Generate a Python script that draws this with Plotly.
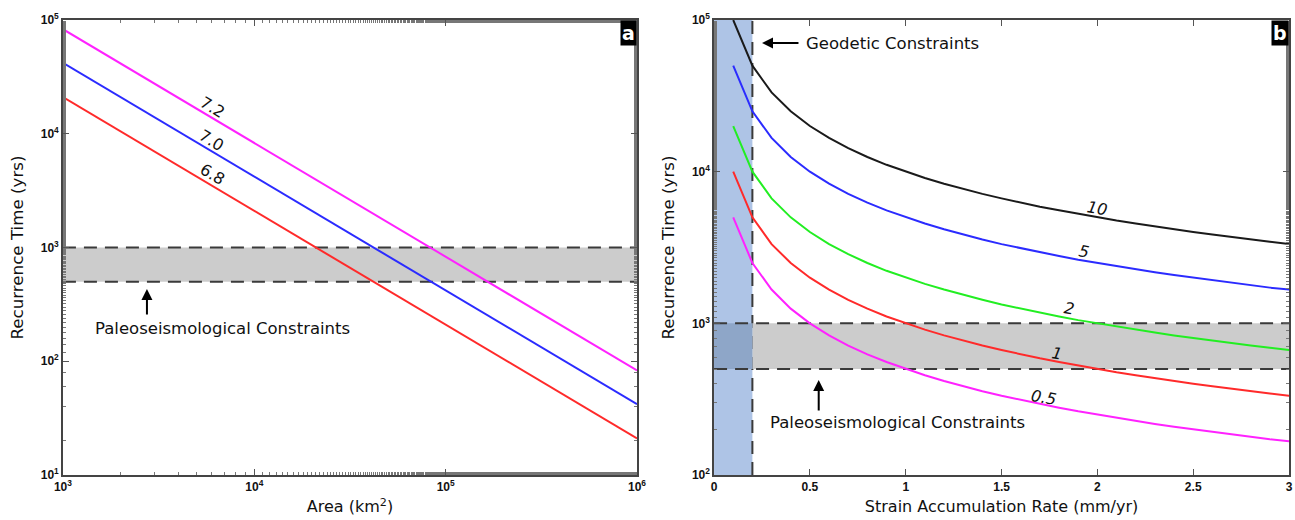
import plotly.graph_objects as go

# ---- Panel a: recurrence time vs. fault area (log-log) ----
area_km2 = [1e3, 1e6]
rec_m72 = [83000, 83]
rec_m70 = [42000, 42]
rec_m68 = [21000, 21]
mag_labels = ["7.2", "7.0", "6.8"]

# ---- Panel b: recurrence time vs. strain accumulation rate ----
rate = [0.1, 0.2, 0.3, 0.4, 0.5, 0.6, 0.7, 0.8, 0.9, 1.0,
        1.1, 1.2, 1.3, 1.4, 1.5, 1.6, 1.7, 1.8, 1.9, 2.0,
        2.1, 2.2, 2.3, 2.4, 2.5, 2.6, 2.7, 2.8, 2.9, 3.0]
rec_10 = [100000, 50000, 33300, 25000, 20000, 16700, 14300, 12500, 11100, 10000,
          9090, 8330, 7690, 7140, 6670, 6250, 5880, 5560, 5260, 5000,
          4760, 4550, 4350, 4170, 4000, 3850, 3700, 3570, 3450, 3330]
rec_5 = [50000, 25000, 16700, 12500, 10000, 8330, 7140, 6250, 5560, 5000,
         4550, 4170, 3850, 3570, 3330, 3130, 2940, 2780, 2630, 2500,
         2380, 2270, 2170, 2080, 2000, 1920, 1850, 1790, 1720, 1670]
rec_2 = [20000, 10000, 6670, 5000, 4000, 3330, 2860, 2500, 2220, 2000,
         1820, 1670, 1540, 1430, 1330, 1250, 1180, 1110, 1050, 1000,
         952, 909, 870, 833, 800, 769, 741, 714, 690, 667]
rec_1 = [10000, 5000, 3330, 2500, 2000, 1670, 1430, 1250, 1110, 1000,
         909, 833, 769, 714, 667, 625, 588, 556, 526, 500,
         476, 455, 435, 417, 400, 385, 370, 357, 345, 333]
rec_05 = [5000, 2500, 1670, 1250, 1000, 833, 714, 625, 556, 500,
          455, 417, 385, 357, 333, 313, 294, 278, 263, 250,
          238, 227, 217, 208, 200, 192, 185, 179, 172, 167]
curve_labels = ["10", "5", "2", "1", "0.5"]

# Log-axis tick positions and labels
area_ticks = [1e3, 1e4, 1e5, 1e6]
area_ticktext = ["10<sup>3</sup>", "10<sup>4</sup>", "10<sup>5</sup>", "10<sup>6</sup>"]
rec_ticks_a = [1e1, 1e2, 1e3, 1e4, 1e5]
rec_ticktext_a = ["10<sup>1</sup>", "10<sup>2</sup>", "10<sup>3</sup>",
                  "10<sup>4</sup>", "10<sup>5</sup>"]
rec_ticks_b = [1e2, 1e3, 1e4, 1e5]
rec_ticktext_b = ["10<sup>2</sup>", "10<sup>3</sup>", "10<sup>4</sup>", "10<sup>5</sup>"]

# Constraint bands
paleo_band = [500, 1000]
geodetic_max_rate = 0.2

MAGENTA = "#ff22ff"
BLUE = "#2b2bff"
RED = "#ff2a2a"
GREEN = "#22ee22"
BLACK = "#1a1a1a"
BAND_GRAY = "#cccccc"
GEO_BLUE = "#aec4e6"
OVERLAP = "#8ea6c8"
DASH_COL = "#3a3a3a"

TXT_FONT = "DejaVu Sans"
TICK_FONT = dict(family="Liberation Sans", size=12, color="#111", weight="bold")

fig = go.Figure()

# Panel a lines
for vals, col in [(rec_m72, MAGENTA), (rec_m70, BLUE), (rec_m68, RED)]:
    fig.add_trace(go.Scatter(x=area_km2, y=vals, mode="lines",
                             line=dict(color=col, width=2),
                             xaxis="x", yaxis="y", hoverinfo="skip"))

# Panel b curves
for vals, col in [(rec_10, BLACK), (rec_5, BLUE), (rec_2, GREEN),
                  (rec_1, RED), (rec_05, MAGENTA)]:
    fig.add_trace(go.Scatter(x=rate, y=vals, mode="lines",
                             line=dict(color=col, width=2),
                             xaxis="x2", yaxis="y2", hoverinfo="skip"))

dash_style = "13px,8px"
shapes = [
    # panel a paleoseismological band
    dict(type="rect", xref="x domain", yref="y", x0=0, x1=1,
         y0=paleo_band[0], y1=paleo_band[1], fillcolor=BAND_GRAY,
         line=dict(width=0), layer="below"),
    dict(type="line", xref="x domain", yref="y", x0=0, x1=1,
         y0=paleo_band[1], y1=paleo_band[1],
         line=dict(color=DASH_COL, width=2, dash=dash_style), layer="below"),
    dict(type="line", xref="x domain", yref="y", x0=0, x1=1,
         y0=paleo_band[0], y1=paleo_band[0],
         line=dict(color=DASH_COL, width=2, dash=dash_style), layer="below"),
    # panel b geodetic band
    dict(type="rect", xref="x2", yref="y2 domain", x0=0, x1=geodetic_max_rate,
         y0=0, y1=1, fillcolor=GEO_BLUE, line=dict(width=0), layer="below"),
    dict(type="rect", xref="x2", yref="y2", x0=geodetic_max_rate, x1=3,
         y0=paleo_band[0], y1=paleo_band[1], fillcolor=BAND_GRAY,
         line=dict(width=0), layer="below"),
    dict(type="rect", xref="x2", yref="y2", x0=0, x1=geodetic_max_rate,
         y0=paleo_band[0], y1=paleo_band[1], fillcolor=OVERLAP,
         line=dict(width=0), layer="below"),
    dict(type="line", xref="x2", yref="y2", x0=0, x1=3,
         y0=paleo_band[1], y1=paleo_band[1],
         line=dict(color=DASH_COL, width=2, dash=dash_style), layer="below"),
    dict(type="line", xref="x2", yref="y2", x0=0, x1=3,
         y0=paleo_band[0], y1=paleo_band[0],
         line=dict(color=DASH_COL, width=2, dash=dash_style), layer="below"),
    dict(type="line", xref="x2", yref="y2 domain", x0=geodetic_max_rate,
         x1=geodetic_max_rate, y0=0, y1=1,
         line=dict(color=DASH_COL, width=2, dash=dash_style), layer="below"),
]

annotations = []

# magnitude labels along panel a lines (positions in log10 units)
for txt, lx, ly in zip(mag_labels, [3.784, 3.778, 3.784], [4.235, 3.945, 3.646]):
    annotations.append(dict(xref="x", yref="y", x=lx, y=ly, text=txt,
                            showarrow=False, textangle=31,
                            font=dict(family=TXT_FONT, size=16, color="#111")))

# curve labels in panel b
for txt, lx, ly in zip(curve_labels, [2.0, 1.93, 1.852, 1.79, 1.72],
                       [3.760, 3.477, 3.095, 2.804, 2.514]):
    annotations.append(dict(xref="x2", yref="y2", x=lx, y=ly,
                            text="<i>" + txt + "</i>",
                            showarrow=False, textangle=10,
                            font=dict(family=TXT_FONT, size=16, color="#111")))

# panel a constraint annotation
annotations.append(dict(xref="x", yref="y", x=3.439, y=2.635, text="",
                        showarrow=True, arrowhead=2, arrowsize=1.1,
                        arrowwidth=2, arrowcolor="#000", ax=0, ay=27))
annotations.append(dict(xref="x", yref="y", x=3.836, y=2.292,
                        text="Paleoseismological Constraints", showarrow=False,
                        font=dict(family=TXT_FONT, size=16.5, color="#111")))

# panel b constraint annotations
annotations.append(dict(xref="x2", yref="y2", x=0.546, y=2.626, text="",
                        showarrow=True, arrowhead=2, arrowsize=1.1,
                        arrowwidth=2, arrowcolor="#000", ax=0, ay=32))
annotations.append(dict(xref="x2", yref="y2", x=0.282, y=2.349, xanchor="left",
                        text="Paleoseismological Constraints", showarrow=False,
                        font=dict(family=TXT_FONT, size=16.5, color="#111")))
annotations.append(dict(xref="x2", yref="y2", x=0.25, y=4.848, text="",
                        showarrow=True, arrowhead=2, arrowsize=1.1,
                        arrowwidth=2, arrowcolor="#000", ax=38, ay=0))
annotations.append(dict(xref="x2", yref="y2", x=0.47, y=4.848, xanchor="left",
                        text="Geodetic Constraints", showarrow=False,
                        font=dict(family=TXT_FONT, size=16.5, color="#111")))

# panel letters
for xr, yr, letter in [("x domain", "y domain", "a"), ("x2 domain", "y2 domain", "b")]:
    annotations.append(dict(xref=xr, yref=yr, x=1, y=1, xanchor="right",
                            yanchor="top", text="<b>" + letter + "</b>",
                            showarrow=False, bgcolor="#000", borderpad=1,
                            font=dict(family="DejaVu Sans", size=19, color="#fff")))

common_axis = dict(showline=True, linecolor="#444", linewidth=1.5, mirror="ticks",
                   ticks="inside", ticklen=6, tickcolor="#555", tickwidth=1,
                   showgrid=False, zeroline=False, tickfont=TICK_FONT,
                   automargin=False)
log_minor = dict(ticks="inside", ticklen=3, tickcolor="#777", showgrid=False)
xtitle_font = dict(family=TXT_FONT, size=16, color="#111")
ytitle_font = dict(family=TXT_FONT, size=16.7, color="#111")

fig.update_layout(
    width=1295, height=520,
    margin=dict(l=0, r=0, t=0, b=0),
    paper_bgcolor="#fff", plot_bgcolor="#fff",
    showlegend=False,
    shapes=shapes, annotations=annotations,
    xaxis=dict(common_axis, type="log", range=[3, 6],
               tickvals=area_ticks, ticktext=area_ticktext,
               domain=[0.0486, 0.4919], minor=log_minor, anchor="y",
               title=dict(text="Area (km<sup>2</sup>)", font=xtitle_font, standoff=8)),
    yaxis=dict(common_axis, type="log", range=[1, 5],
               tickvals=rec_ticks_a, ticktext=rec_ticktext_a,
               domain=[0.0865, 0.9615], minor=log_minor, anchor="x",
               title=dict(text="Recurrence Time (yrs)", font=ytitle_font, standoff=13)),
    xaxis2=dict(common_axis, range=[0, 3], dtick=0.5,
                domain=[0.5514, 0.9954], anchor="y2",
                title=dict(text="Strain Accumulation Rate (mm/yr)", font=xtitle_font,
                           standoff=8)),
    yaxis2=dict(common_axis, type="log", range=[2, 5],
                tickvals=rec_ticks_b, ticktext=rec_ticktext_b,
                domain=[0.0865, 0.9615], minor=log_minor, anchor="x2",
                title=dict(text="Recurrence Time (yrs)", font=ytitle_font, standoff=13)),
)

fig.write_html("out.html")
